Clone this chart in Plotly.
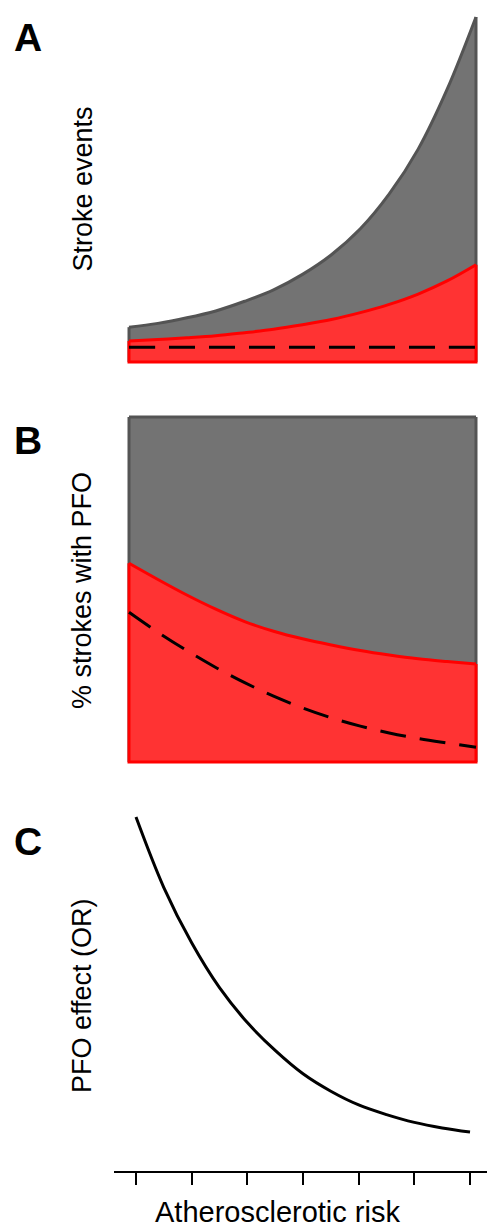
import plotly.graph_objects as go

# ---- data (arbitrary units) ----
risk = [0, 0.5, 1, 1.5, 2, 2.5, 3, 3.5, 4, 4.5, 5, 5.5, 6]
tick_vals = [0, 1, 2, 3, 4, 5, 6]

# Panel A: stroke events (0-100 scale)
a_total = [10.1, 11.2, 12.8, 14.8, 17.6, 20.9, 25.4, 31.1, 38.6, 48.7, 61.7, 79.0, 100]
a_pfo = [6.1, 6.5, 7.0, 7.6, 8.5, 9.5, 10.8, 12.3, 14.3, 16.7, 19.7, 23.5, 28.2]
a_baseline = [4.3] * 13

# Panel B: % strokes with PFO (0-100 scale)
b_total = [100] * 13
b_pfo = [57.6, 52.9, 48.4, 44.3, 40.7, 37.9, 35.7, 33.9, 32.3, 31.0, 29.9, 29.1, 28.4]
b_baseline = [43.4, 37.6, 32.3, 27.4, 23.0, 19.1, 15.7, 12.8, 10.4, 8.4, 6.8, 5.5, 4.3]

# Panel C: PFO effect (OR)
c_or = [9.54, 7.64, 6.15, 4.94, 4.0, 3.25, 2.62, 2.15, 1.78, 1.52, 1.31, 1.16, 1.05]

y_labels = ["Stroke events", "% strokes with PFO", "PFO effect (OR)"]
panel_letters = ["A", "B", "C"]
x_title = "Atherosclerotic risk"

GRAY_FILL = "#737373"
GRAY_LINE = "#545454"
RED_FILL = "#FF3333"
RED_LINE = "#FF0000"
FONT = "Liberation Sans, Arial, Helvetica, sans-serif"

W, H = 487, 1231

fig = go.Figure()


def area(xs, ys, fill, line, xa, ya, bottom_edge):
    fig.add_trace(go.Scatter(x=xs, y=ys, mode="lines", fill="tozeroy",
                             fillcolor=fill, line=dict(color=line, width=3, shape="spline"),
                             xaxis=xa, yaxis=ya, hoverinfo="skip", showlegend=False))
    ex = [xs[0], xs[0], None, xs[-1], xs[-1]]
    ey = [0, ys[0], None, 0, ys[-1]]
    if bottom_edge:
        ex = [xs[0], xs[0], xs[-1], xs[-1]]
        ey = [ys[0], 0, 0, ys[-1]]
    fig.add_trace(go.Scatter(x=ex, y=ey, mode="lines",
                             line=dict(color=line, width=3),
                             xaxis=xa, yaxis=ya, hoverinfo="skip", showlegend=False))


def dashed(xs, ys, xa, ya):
    fig.add_trace(go.Scatter(x=xs, y=ys, mode="lines",
                             line=dict(color="black", width=3, dash="26px,14px", shape="spline"),
                             xaxis=xa, yaxis=ya, hoverinfo="skip", showlegend=False))


# Panel A
area(risk, a_total, GRAY_FILL, GRAY_LINE, "x", "y", False)
area(risk, a_pfo, RED_FILL, RED_LINE, "x", "y", True)
dashed(risk, a_baseline, "x", "y")

# Panel B
fig.add_trace(go.Scatter(x=risk, y=b_total, mode="lines", fill="tozeroy",
                         fillcolor=GRAY_FILL, line=dict(color=GRAY_LINE, width=3),
                         xaxis="x2", yaxis="y2", hoverinfo="skip", showlegend=False))
fig.add_trace(go.Scatter(x=[risk[0], risk[0], None, risk[-1], risk[-1]],
                         y=[0, b_total[0], None, 0, b_total[-1]], mode="lines",
                         line=dict(color=GRAY_LINE, width=3),
                         xaxis="x2", yaxis="y2", hoverinfo="skip", showlegend=False))
area(risk, b_pfo, RED_FILL, RED_LINE, "x2", "y2", True)
dashed(risk, b_baseline, "x2", "y2")

# Panel C
fig.add_trace(go.Scatter(x=risk, y=c_or, mode="lines",
                         line=dict(color="black", width=3, shape="spline"),
                         xaxis="x3", yaxis="y3", hoverinfo="skip", showlegend=False))


def px_x(p):
    return p / W


def px_y(p):
    return 1 - p / H


hidden = dict(visible=False, showgrid=False, zeroline=False, fixedrange=True)
xr = [-0.0519, 6.0519]
yr = [-0.87, 100.87]

fig.update_layout(
    width=W, height=H,
    margin=dict(l=0, r=0, t=0, b=0),
    paper_bgcolor="white", plot_bgcolor="rgba(0,0,0,0)",
    font=dict(family=FONT, color="black"),
    xaxis=dict(domain=[px_x(126), px_x(479)], range=xr, anchor="y", **hidden),
    yaxis=dict(domain=[px_y(365), px_y(14)], range=yr, anchor="x", **hidden),
    xaxis2=dict(domain=[px_x(126), px_x(479)], range=xr, anchor="y2", **hidden),
    yaxis2=dict(domain=[px_y(765), px_y(414)], range=yr, anchor="x2", **hidden),
    xaxis3=dict(domain=[px_x(114), 1], range=[-0.395, 6.305], anchor="y3",
                showline=True, linecolor="black", linewidth=2,
                ticks="outside", ticklen=12, tickwidth=2, tickcolor="black",
                tickvals=tick_vals, showticklabels=False,
                showgrid=False, zeroline=False, fixedrange=True),
    yaxis3=dict(domain=[px_y(1171), px_y(800)], range=[0, 10], anchor="x3", **hidden),
)

label_y = [189.5, 591, 996]
letter_y = [38, 441, 841]
annotations = []
for lab, ly in zip(y_labels, label_y):
    annotations.append(dict(text=lab, x=px_x(82), y=px_y(ly), xref="paper", yref="paper",
                            xanchor="center", yanchor="middle", textangle=-90,
                            showarrow=False, font=dict(size=27, family=FONT, color="black")))
for let, ly in zip(panel_letters, letter_y):
    annotations.append(dict(text="<b>" + let + "</b>", x=px_x(27.5), y=px_y(ly),
                            xref="paper", yref="paper", xanchor="center", yanchor="middle",
                            showarrow=False, font=dict(size=39, family=FONT, color="black")))
annotations.append(dict(text=x_title, x=px_x(277.5), y=px_y(1212), xref="paper", yref="paper",
                        xanchor="center", yanchor="middle", showarrow=False,
                        font=dict(size=29, family=FONT, color="black")))
fig.update_layout(annotations=annotations)

fig.write_html("out.html", config={"displayModeBar": False},
               post_script="document.body.style.margin='0';document.body.style.overflow='hidden';")
